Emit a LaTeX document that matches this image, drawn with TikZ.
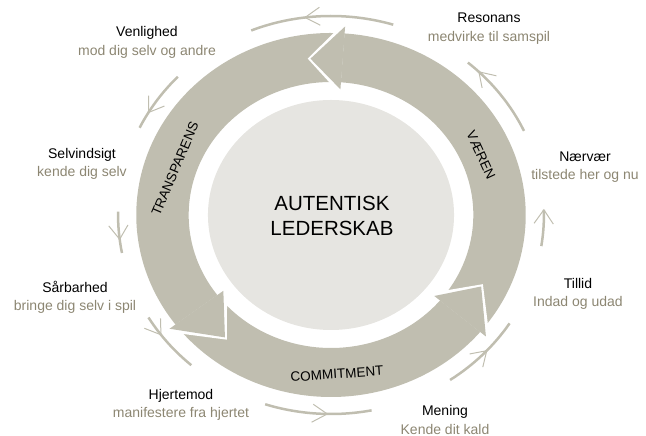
\documentclass[tikz,border=0pt]{standalone}
\usepackage{fontspec}
\setmainfont{Liberation Sans}
\definecolor{ringgray}{RGB}{192,190,176}
\definecolor{coregray}{RGB}{230,229,225}
\definecolor{subgray}{RGB}{140,134,114}
\begin{document}
\begin{tikzpicture}[x=1pt,y=1pt,
  valuetext/.style={align=center,font=\fontsize{14}{18.5}\selectfont},
  ringtext/.style={font=\fontsize{13.5}{15}\selectfont},
  thinarc/.style={ringgray,line width=2.5pt},
  barbline/.style={ringgray,line width=1pt},
  gapline/.style={white,line width=4pt,line join=miter}]
\useasboundingbox (0,0) rectangle (646,436);

\begin{scope}[shift={(331,221)},xscale=1.07]
\fill[coregray] (0,0) circle (115);

\fill[ringgray] (-40:182) arc (-40:86:182) -- (86:133) arc (86:-40:133) -- cycle;
\fill[ringgray] (86:182) arc (86:217:182) -- (217:133) arc (217:86:133) -- cycle;
\fill[ringgray] (217:182) arc (217:320:182) -- (320:133) arc (320:217:133) -- cycle;

\draw[gapline] (86:191) -- (97:157.5) -- (86:124);
\fill[ringgray] (86:189) -- (97:157.5) -- (86:126) -- cycle;
\draw[gapline] (217:191) -- (231:157.5) -- (217:124);
\fill[ringgray] (217:189) -- (231:157.5) -- (217:126) -- cycle;
\draw[gapline] (320:191) -- (333:157.5) -- (320:124);
\fill[ringgray] (320:189) -- (333:157.5) -- (320:126) -- cycle;

\draw[thinarc] (73:199) arc (73:112:199);
\draw[barbline] (93:208) -- (97:199) -- (93:190);
\draw[thinarc] (25:199) arc (25:50:199);
\draw[barbline] (42:208) -- (46:199) -- (42:190);
\draw[thinarc] (-9:199) arc (-9:1.5:199);
\draw[barbline] (-2.5:208) -- (1.5:199) -- (-2.5:190);
\draw[thinarc] (-56:199) arc (-56:-33:199);
\draw[barbline] (-47:208) -- (-43:199) -- (-47:190);
\draw[thinarc] (252:199) arc (252:281:199);
\draw[barbline] (265:208) -- (269:199) -- (265:190);
\draw[thinarc] (211:199) arc (211:229:199);
\draw[barbline] (213:208) -- (217:199) -- (213:190);
\draw[thinarc] (179:199) arc (179:191:199);
\draw[barbline] (183:208) -- (187:199) -- (183:190);
\draw[thinarc] (136:199) arc (136:154:199);
\draw[barbline] (145:208) -- (149:199) -- (145:190);
\end{scope}

\node[align=center,font=\fontsize{20.5}{25}\selectfont] (core) at (332,220.5) {AUTENTISK\\LEDERSKAB};

\node[ringtext,rotate=-65] (vaeren) at (481,281) {VÆREN};
\node[ringtext,rotate=67] (transparens) at (175,267) {TRANSPARENS};
\node[ringtext,rotate=4] (commitment) at (337,62) {COMMITMENT};

\node[valuetext] (venlighed) at (147,393.5) {Venlighed\\\textcolor{subgray}{mod dig selv og andre}};
\node[valuetext] (resonans) at (489,407.5) {Resonans\\\textcolor{subgray}{medvirke til samspil}};
\node[valuetext] (naervaer) at (585,269) {Nærvær\\\textcolor{subgray}{tilstede her og nu}};
\node[valuetext] (tillid) at (578,142) {Tillid\\\textcolor{subgray}{Indad og udad}};
\node[valuetext] (mening) at (445,16) {Mening\\\textcolor{subgray}{Kende dit kald}};
\node[valuetext] (hjertemod) at (181,31) {Hjertemod\\\textcolor{subgray}{manifestere fra hjertet}};
\node[valuetext] (saarbarhed) at (75,138.5) {Sårbarhed\\\textcolor{subgray}{bringe dig selv i spil}};
\node[valuetext] (selvindsigt) at (82,272) {Selvindsigt\\\textcolor{subgray}{kende dig selv}};
\end{tikzpicture}
\end{document}
